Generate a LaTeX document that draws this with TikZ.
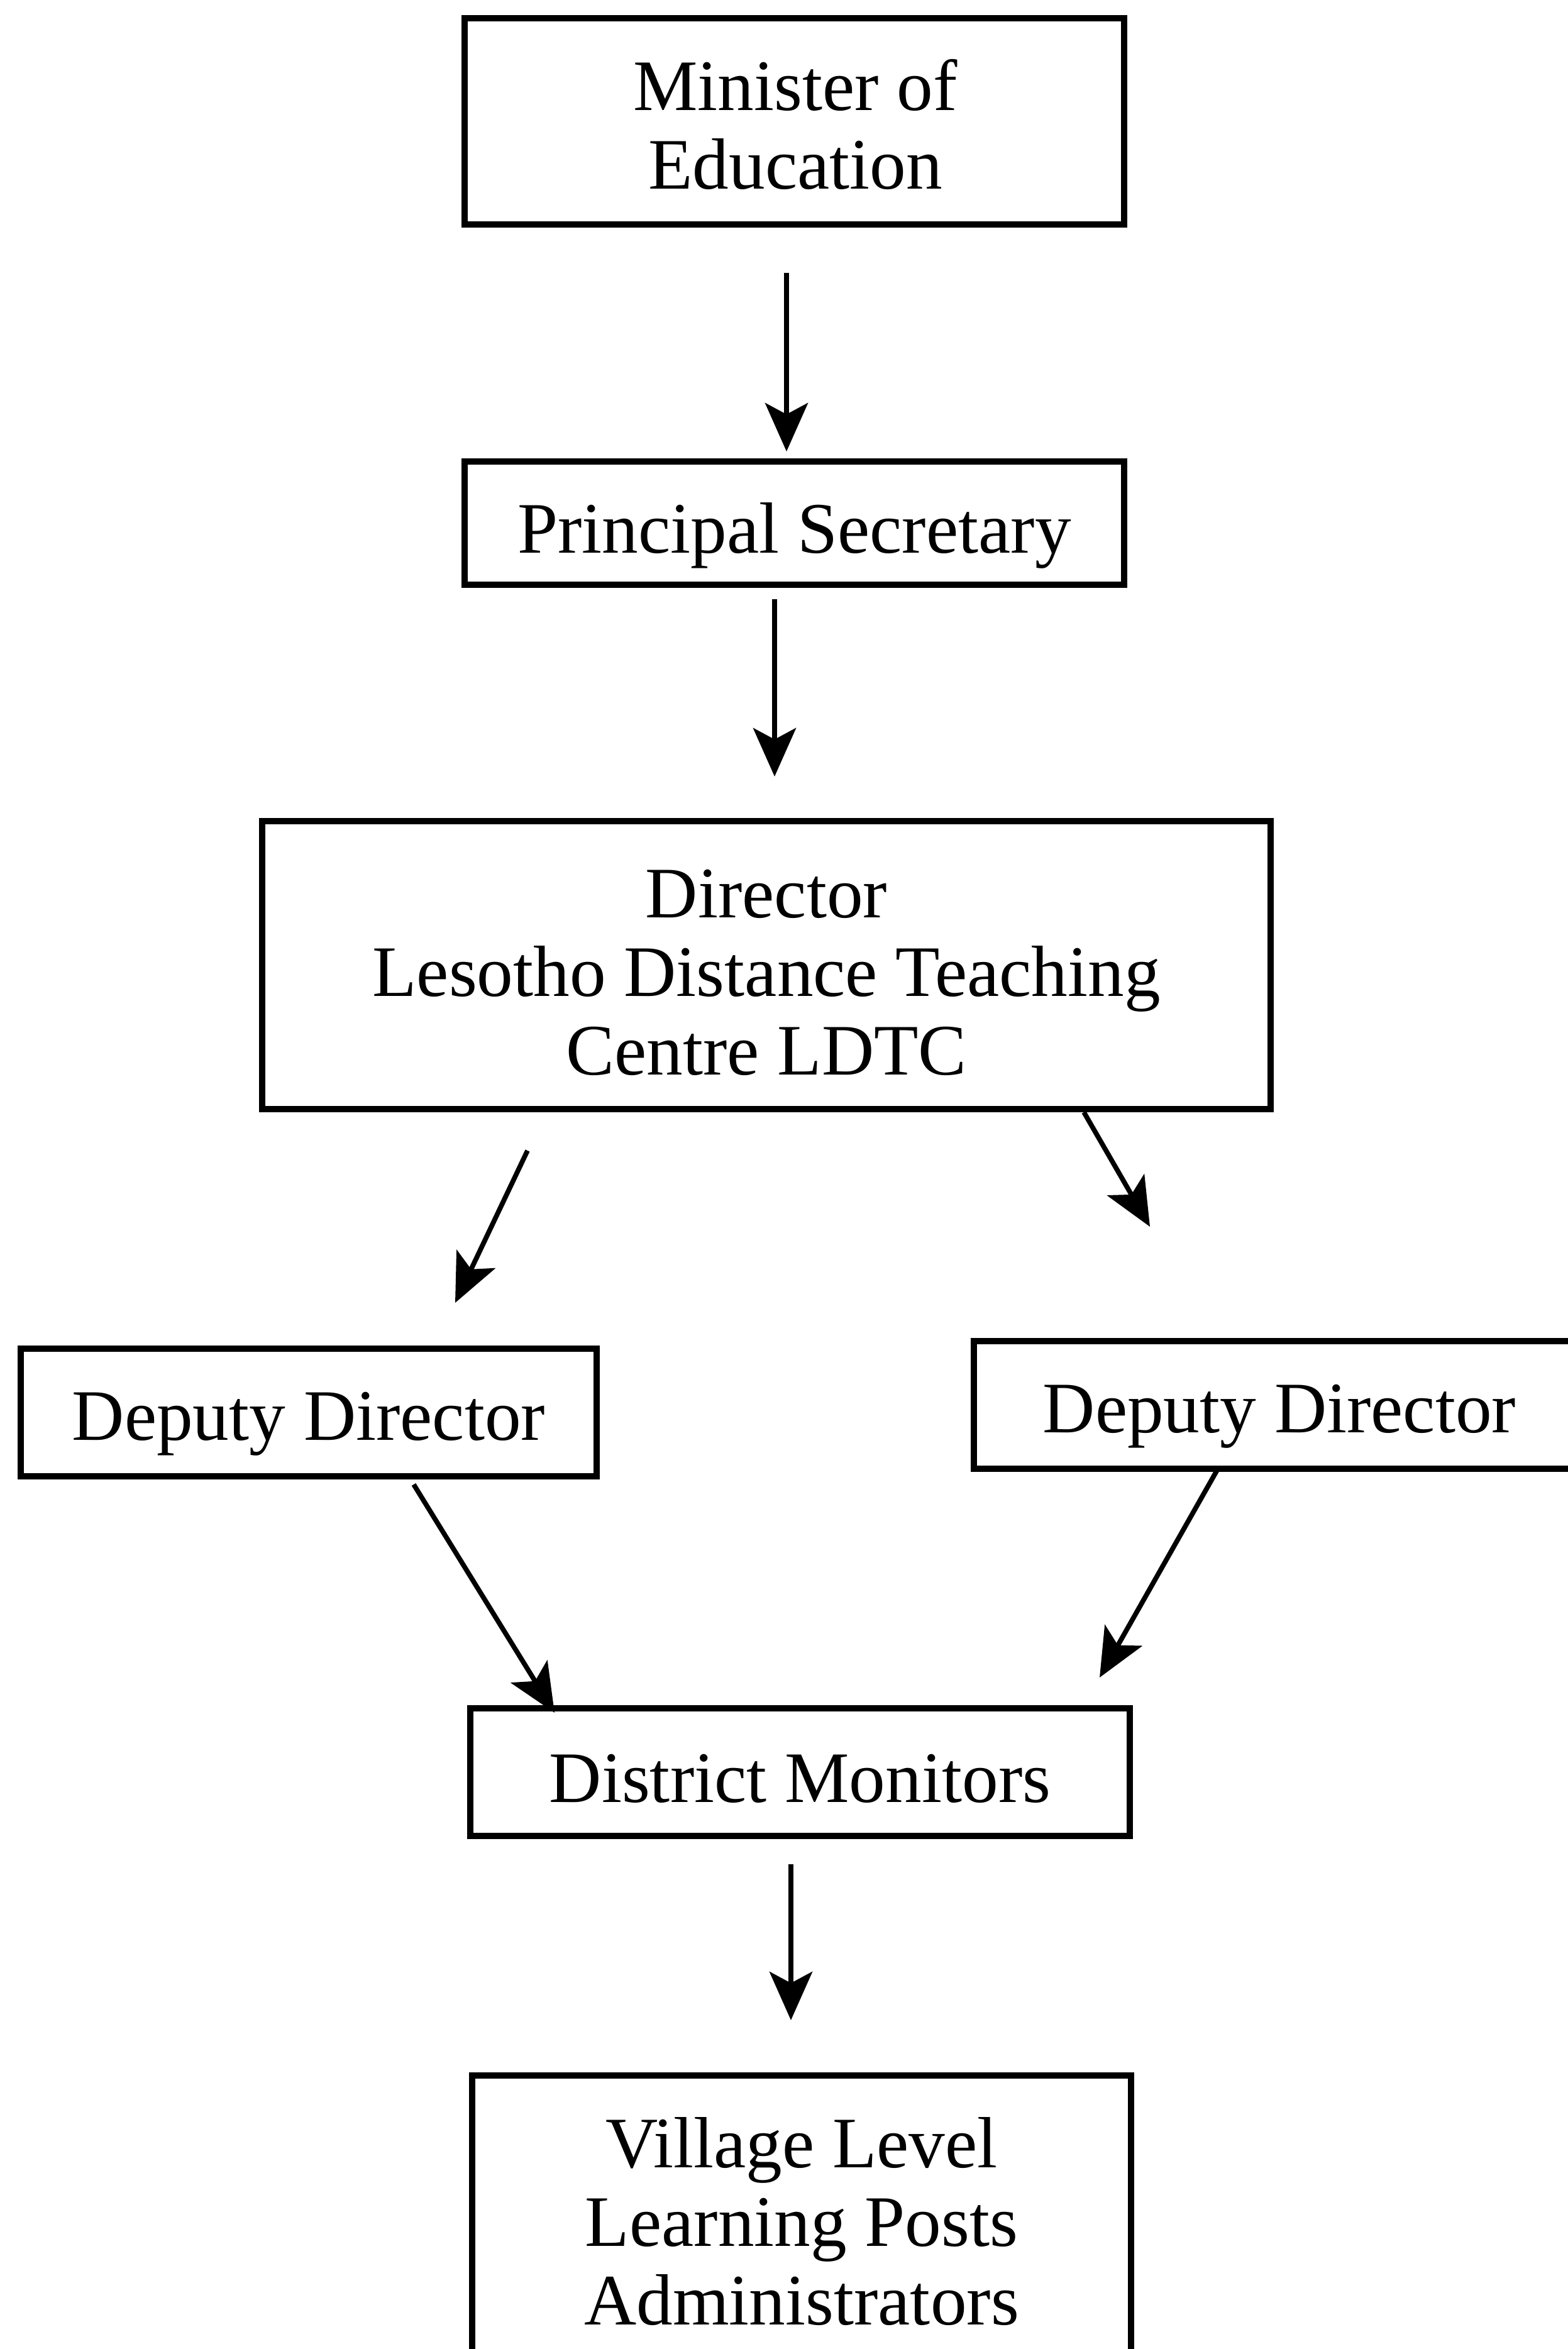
\documentclass[tikz,border=0pt]{standalone}
\usepackage{fontspec}
\setmainfont{Liberation Serif}
\usetikzlibrary{arrows.meta}
\begin{document}
\begin{tikzpicture}[
  box/.style={draw, line width=2.8pt, rectangle, inner sep=0pt},
  txt/.style={inner sep=0pt, align=center,
    font=\fontsize{32.8pt}{35.6pt}\selectfont},
  arr/.style={line width=2.2pt, -{Stealth[length=7.7mm,width=6.8mm,inset=1.8mm]}}
]
\useasboundingbox (0,0) rectangle (24.93,-37.36);
\fill[white] (0,0) rectangle (24.93,-37.36);

% boxes
\node[box, minimum width=10.49cm, minimum height=3.28cm] (min) at (12.635,-1.93) {};
\node[box, minimum width=10.49cm, minimum height=1.96cm] (ps) at (12.635,-8.32) {};
\node[box, minimum width=16.04cm, minimum height=4.58cm] (dir) at (12.19,-15.35) {};
\node[box, minimum width=9.16cm, minimum height=2.03cm] (depl) at (4.91,-22.465) {};
\node[box, minimum width=9.72cm, minimum height=2.03cm] (depr) at (20.35,-22.345) {};
\node[box, minimum width=10.49cm, minimum height=2.03cm] (dm) at (12.725,-28.185) {};
\node[box, minimum width=10.48cm, minimum height=4.64cm] (vil) at (12.75,-35.33) {};

% texts
\node[txt] (mint) at (12.65,-1.98) {Minister of\\Education};
\node[txt] (pst) at (12.635,-8.52) {Principal Secretary};
\node[txt] (dirt) at (12.19,-15.47) {Director\\Lesotho Distance Teaching\\Centre LDTC};
\node[txt] (deplt) at (4.91,-22.645) {Deputy Director};
\node[txt] (deprt) at (20.35,-22.525) {Deputy Director};
\node[txt] (dmt) at (12.725,-28.285) {District Monitors};
\node[txt] (vilt) at (12.75,-35.33) {Village Level\\Learning Posts\\Administrators};

% connector ends
\coordinate (a1s) at (12.51,-4.34);  \coordinate (a1e) at (12.51,-7.18);
\coordinate (a2s) at (12.32,-9.53);  \coordinate (a2e) at (12.32,-12.35);
\coordinate (a3s) at (8.39,-18.30);  \coordinate (a3e) at (7.24,-20.72);
\coordinate (a4s) at (17.24,-17.69); \coordinate (a4e) at (18.29,-19.51);
\coordinate (a5s) at (6.58,-23.61);  \coordinate (a5e) at (8.82,-27.24);
\coordinate (a6s) at (19.36,-23.38); \coordinate (a6e) at (17.49,-26.68);
\coordinate (a7s) at (12.58,-29.65); \coordinate (a7e) at (12.58,-32.13);

\draw[arr] (a1s) -- (a1e);
\draw[arr] (a2s) -- (a2e);
\draw[arr] (a3s) -- (a3e);
\draw[arr] (a4s) -- (a4e);
\draw[arr] (a5s) -- (a5e);
\draw[arr] (a6s) -- (a6e);
\draw[arr] (a7s) -- (a7e);
\end{tikzpicture}
\end{document}
